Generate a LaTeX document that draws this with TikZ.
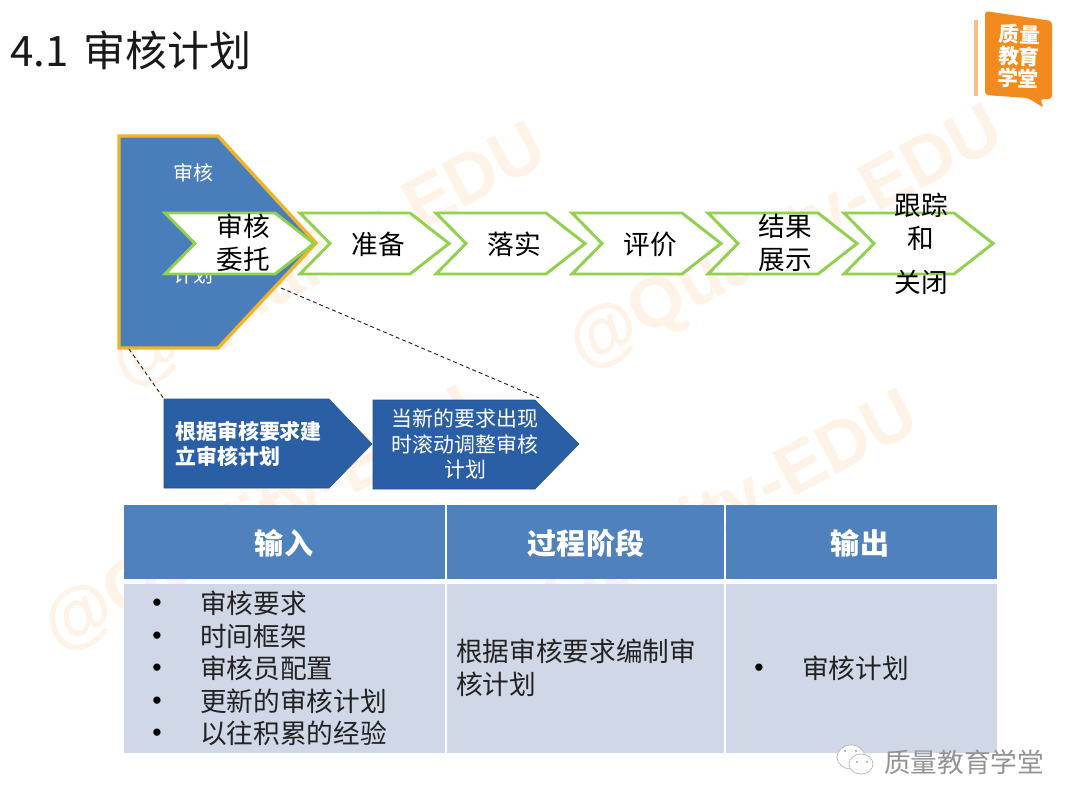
\documentclass[tikz,border=0pt]{standalone}
\usepackage{fontspec}
\setmainfont{Noto Sans CJK SC}
\newfontfamily\libfont{Liberation Sans}
\tikzset{
 x=0.75pt,y=-0.75pt,
 chev/.style={draw=chevgreen,line width=2.2pt,fill=white,line join=miter},
 darkarrow/.style={fill=arrowblue,draw=arrowblue!85!black,line width=0.4pt},
 cheb/.style={font=\fontsize{20pt}{25pt}\selectfont,align=center,text=black,inner sep=0pt},
 whitebold/.style={font=\fontsize{15.7pt}{19pt}\selectfont\bfseries,text=white,inner sep=0pt},
 head/.style={fill=headblue,draw=none},
 bodyc/.style={fill=bodyblue,draw=none},
 headtxt/.style={font=\fontsize{21.8pt}{25pt}\selectfont\bfseries,text=white,inner sep=0pt},
 bodytxt/.style={font=\fontsize{20pt}{24.6pt}\selectfont,text=textgray,inner sep=0pt,anchor=west},
 bul/.style={font=\libfont\fontsize{20pt}{20pt}\selectfont,text=black,inner sep=0pt,yshift=-2pt},
 wm/.style={font=\libfont\fontsize{53pt}{53pt}\selectfont\bfseries,text=wmcolor,rotate=28,inner sep=0pt},
 dashline/.style={draw=black!85,line width=0.7pt,dash pattern=on 3pt off 2.2pt},
}
\definecolor{chevgreen}{HTML}{92D050}
\definecolor{arrowblue}{HTML}{2A5FA6}
\definecolor{pentblue}{HTML}{4A7EBB}
\definecolor{goldline}{HTML}{F0B429}
\definecolor{headblue}{HTML}{4F81BD}
\definecolor{bodyblue}{HTML}{D0D8E8}
\definecolor{textgray}{HTML}{222222}
\definecolor{wmcolor}{HTML}{FEF3E6}
\definecolor{logoorange}{HTML}{F28A1E}
\begin{document}
\begin{tikzpicture}
\useasboundingbox (0,0) rectangle (1080,810);
\fill[white] (0,0) rectangle (1080,810);
% watermarks
\node[wm] (w1) at (330,258) {@Quality-EDU};
\node[wm] (w2) at (787,240) {@Quality-EDU};
\node[wm] (w3) at (262,522) {@Quality-EDU};
\node[wm] (w4) at (702,525) {@Quality-EDU};
% title
\node[anchor=west,inner sep=0pt,font=\fontsize{31.5pt}{36pt}\selectfont,text=black!90] (title) at (10,50) {4.1\hspace{4pt} 审核计划};
% logo
\fill[logoorange!55!white] (974,20) rectangle (978,96);
\fill[logoorange,rounded corners=2.5pt] (985,11) -- (1052,21) -- (1052,99) -- (1040,99) -- (1044,108) -- (1028,98) -- (985,95) -- cycle;
\node[font=\fontsize{15.5pt}{16.5pt}\selectfont\bfseries,text=white,align=center,inner sep=0pt,rotate=-2] (logo) at (1019,56) {质量\\教育\\学堂};
% big pentagon
\draw[fill=pentblue,draw=goldline,line width=2.6pt,line join=miter] (119,136) -- (218,136) -- (316,243) -- (218,348) -- (119,348) -- cycle;
\coordinate (pentBL) at (129,349);
\coordinate (pentBR) at (281,288);
\node[font=\fontsize{15pt}{18pt}\selectfont,text=white,inner sep=0pt] (pt1) at (193,173) {审核};
\node[font=\fontsize{15pt}{18pt}\selectfont,text=white,inner sep=0pt] (pt2) at (193,275) {计划};
% chevrons
\newcommand{\chevshape}[1]{\draw[chev] (#1,213) -- (#1+110,213) -- (#1+149,243.5) -- (#1+110,274) -- (#1,274) -- (#1+30,243.5) -- cycle;}
\chevshape{165}
\chevshape{300}
\chevshape{436}
\chevshape{572}
\chevshape{708}
\chevshape{844}
\node[cheb] (c1) at (243,243) {审核\\委托};
\node[cheb] (c2) at (378,244) {准备};
\node[cheb] (c3) at (514,244) {落实};
\node[cheb] (c4) at (650,244) {评价};
\node[cheb] (c5) at (785,243) {结果\\展示};
\node[cheb] (c6) at (921,243.5) {跟踪\\和\\[8pt]关闭};
% dark arrows
\path[darkarrow] (164,399) -- (329,399) -- (372,444) -- (329,488) -- (164,488) -- cycle;
\path[darkarrow] (373,400) -- (535,400) -- (579,444) -- (535,489) -- (373,489) -- cycle;
\coordinate (a1top) at (164,399);
\coordinate (a2top) at (539,398);
\node[whitebold,align=left,anchor=west] (a1) at (175,444) {根据审核要求建\\立审核计划};
\node[whitebold,align=center,font=\fontsize{15.7pt}{19pt}\selectfont] (a2) at (465,444) {当新的要求出现\\时滚动调整审核\\计划};
\draw[dashline] (pentBL) -- (a1top);
\draw[dashline] (pentBR) -- (a2top);
% table
\path[head] (124,505) rectangle (445,579);
\path[head] (447,505) rectangle (724,579);
\path[head] (726,505) rectangle (997,579);
\path[bodyc] (124,584) rectangle (445,753);
\path[bodyc] (447,584) rectangle (724,753);
\path[bodyc] (726,584) rectangle (997,753);
\node[headtxt] (h1) at (284,543) {输入};
\node[headtxt] (h2) at (586,543) {过程阶段};
\node[headtxt] (h3) at (860,543) {输出};
\foreach \y/\t [count=\i] in {603/审核要求,636/时间框架,668/审核员配置,701/更新的审核计划,733/以往积累的经验}{
 \node[bul] (b\i) at (157,\y) {•};
 \node[bodytxt] (t\i) at (200,\y) {\t};
}
\node[bodytxt,align=left] (mid) at (456,668) {根据审核要求编制审\\核计划};
\node[bul] (b6) at (759,668) {•};
\node[bodytxt] (t6) at (802,668) {审核计划};
% wechat footer
\draw[fill=white,draw=gray!60,line width=0.5pt] (851,757) ellipse (14 and 12);
\draw[fill=white,draw=gray!60,line width=0.5pt] (861,764) ellipse (12 and 10);
\fill[gray!70] (845,751) circle (1.2) (856,751) circle (1.2) (857,762) circle (1.2) (867,762) circle (1.2);
\node[anchor=west,inner sep=0pt,font=\fontsize{20pt}{24pt}\selectfont,text=gray!85] (wx) at (884,762) {质量教育学堂};
\end{tikzpicture}
\end{document}
